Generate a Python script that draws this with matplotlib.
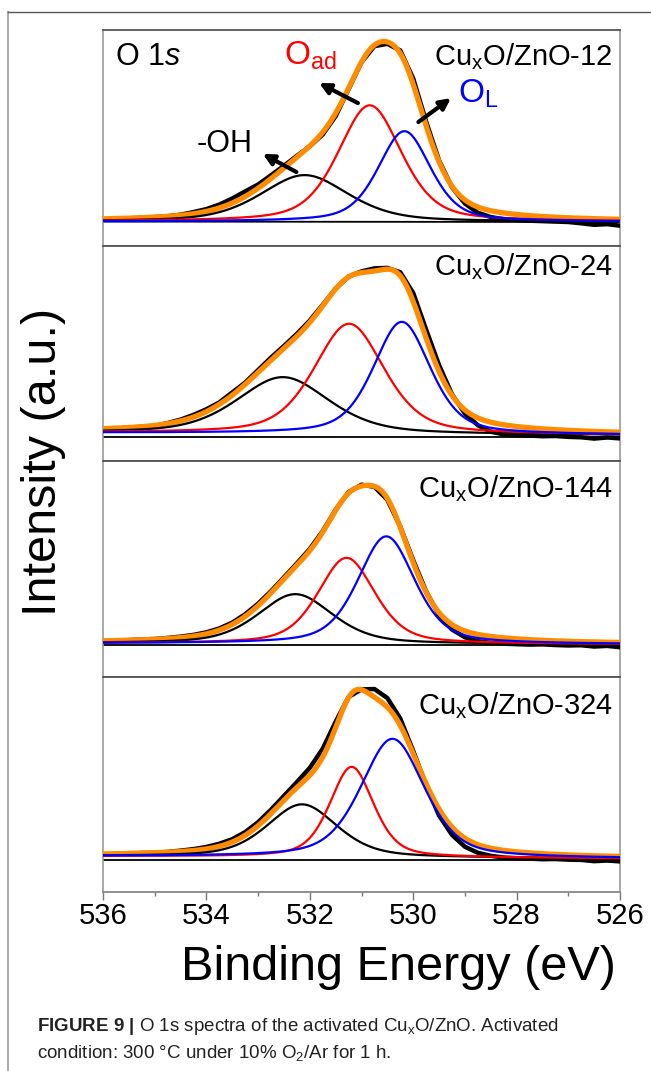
import numpy as np
import matplotlib.pyplot as plt
from matplotlib.lines import Line2D

plt.rcParams['font.family'] = ['Liberation Sans', 'DejaVu Sans']
plt.rcParams['mathtext.fontset'] = 'custom'
plt.rcParams['mathtext.rm'] = 'Liberation Sans'
plt.rcParams['mathtext.it'] = 'Liberation Sans:italic'
plt.rcParams['mathtext.bf'] = 'Liberation Sans:bold'

# --- data (intensity in % of panel height) ---
samples = [r'Cu$_{\mathrm{x}}$O/ZnO-12', r'Cu$_{\mathrm{x}}$O/ZnO-24',
           r'Cu$_{\mathrm{x}}$O/ZnO-144', r'Cu$_{\mathrm{x}}$O/ZnO-324']
label_y = [83.8, 86.3, 83.0, 82.4]

# measured spectra, 536 -> 526 eV every 0.25 eV
energy = np.arange(536, 525.99, -0.25)
raw_12 = [12.0, 12.4, 12.5, 12.9, 13.2, 13.6, 14.3, 15.5, 16.9, 19.0, 21.8, 25.1, 28.3, 32.6,
          37.0, 41.6, 46.0, 51.5, 60.0, 72.5, 85.0, 92.5, 93.6, 90.5, 77.5, 57.5, 39.5, 27.0,
          19.5, 15.2, 13.2, 12.2, 11.8, 11.5, 11.3, 11.1, 10.9, 10.3, 9.6, 9.9, 9.2]
raw_24 = [14.8, 15.0, 15.6, 15.8, 16.3, 17.6, 19.2, 21.4, 24.0, 27.2, 31.8, 36.4, 42.2, 48.0,
          53.4, 59.0, 65.2, 72.5, 80.0, 85.6, 88.0, 89.4, 89.6, 87.6, 78.0, 61.0, 44.5, 31.0,
          22.0, 16.6, 13.6, 12.4, 12.0, 11.8, 11.5, 11.6, 11.2, 11.0, 10.4, 10.9, 10.5]
raw_144 = [16.3, 16.5, 16.9, 17.2, 17.4, 17.9, 18.5, 19.3, 20.5, 22.3, 25.0, 28.9, 33.8, 39.6,
           46.0, 52.5, 59.2, 67.5, 77.4, 85.6, 89.0, 88.0, 82.0, 69.5, 54.0, 39.5, 28.5, 21.8,
           18.2, 16.4, 15.6, 15.2, 15.0, 14.8, 14.9, 14.6, 14.4, 14.5, 13.9, 14.2, 13.6]
raw_324 = [17.4, 17.6, 17.9, 18.1, 18.2, 18.6, 19.2, 19.9, 20.9, 22.4, 24.5, 27.8, 32.4, 38.2,
           44.6, 51.0, 57.6, 66.5, 79.0, 90.5, 94.0, 94.2, 90.0, 80.5, 65.5, 49.5, 35.5, 26.5,
           21.0, 18.2, 16.8, 16.0, 15.7, 15.5, 15.2, 15.3, 15.0, 14.9, 14.3, 14.6, 14.2]
raws = [raw_12, raw_24, raw_144, raw_324]

# fitted components: centre (eV), height above background, FWHM (eV)
oh_center = [532.10, 532.52, 532.28, 532.15]
oh_height = [21.6, 26.2, 23.0, 24.5]
oh_fwhm = [2.0, 2.1, 1.7, 1.6]

oad_center = [530.84, 531.24, 531.29, 531.19]
oad_height = [54.0, 51.1, 39.9, 42.0]
oad_fwhm = [1.45, 1.6, 1.3, 1.0]

ol_center = [530.17, 530.22, 530.52, 530.40]
ol_height = [42.0, 52.1, 49.9, 55.1]
ol_fwhm = [1.2, 1.3, 1.3, 1.45]

bg_left = [11.1, 13.1, 15.4, 16.6]
bg_right = [11.0, 12.0, 14.9, 15.5]
base_left = [11.1, 11.3, 14.4, 14.8]
base_right = [10.9, 11.3, 14.4, 14.8]

xticks = [536, 534, 532, 530, 528, 526]


def pv(E, c, h, w, eta=0.45):
    x = (E - c) / w
    return h * ((1 - eta) * np.exp(-4 * np.log(2) * x ** 2) + eta / (1 + 4 * x ** 2))


E = np.linspace(536, 526, 801)

fig = plt.figure(figsize=(6.51, 10.71), dpi=100)
axes = fig.subplots(4, 1, sharex=True, gridspec_kw=dict(hspace=0))
fig.subplots_adjust(left=103 / 651, right=620 / 651, top=1 - 30 / 1071, bottom=1 - 892 / 1071)

for i, ax in enumerate(axes):
    bg = bg_left[i] + (bg_right[i] - bg_left[i]) * (536 - E) / 10
    p_oh = pv(E, oh_center[i], oh_height[i], oh_fwhm[i])
    p_ad = pv(E, oad_center[i], oad_height[i], oad_fwhm[i])
    p_l = pv(E, ol_center[i], ol_height[i], ol_fwhm[i])
    env = bg + p_oh + p_ad + p_l

    ax.plot([536, 526], [base_left[i], base_right[i]], color='k', lw=1.3, zorder=2)
    ax.plot(energy, raws[i], color='k', lw=3.2, zorder=3)
    ax.plot(E, env, color='#ff8c00', lw=3.8, zorder=4, solid_capstyle='butt')
    ax.plot(E, bg + p_oh, color='k', lw=1.6, zorder=5)
    ax.plot(E, bg + p_ad, color='#ff0000', lw=1.6, zorder=5)
    ax.plot(E, bg + p_l, color='#0000ff', lw=1.6, zorder=5)

    ax.text(526.14, label_y[i], samples[i], ha='right', va='baseline', fontsize=21)
    ax.set_ylim(0, 100)
    ax.set_yticks([])
    for s in ['left', 'right']:
        ax.spines[s].set_color('#999999')
        ax.spines[s].set_linewidth(1.2)
    for s in ['top', 'bottom']:
        ax.spines[s].set_color('#555555')
        ax.spines[s].set_linewidth(1.3)
    ax.tick_params(axis='x', which='both', bottom=(i == 3), top=False, direction='out',
                   color='#777777')

ax = axes[-1]
ax.set_xlim(536, 526)
ax.set_xticks(xticks)
ax.set_xticks(np.arange(535, 526, -2), minor=True)
ax.tick_params(axis='x', which='major', length=6, width=1, labelsize=21, pad=1.5)
ax.tick_params(axis='x', which='minor', length=3, width=1)
axes[-1].spines['bottom'].set_color('#888888')

a0 = axes[0]
a0.text(535.77, 83.8, r'O 1$\mathit{s}$', fontsize=22, ha='left', va='baseline')
a0.text(532.5, 83.8, r'O$_{\mathrm{ad}}$', fontsize=24, color='#ff0000', ha='left', va='baseline')
a0.text(529.13, 66.1, r'O$_{\mathrm{L}}$', fontsize=24, color='#0000ff', ha='left', va='baseline')
a0.text(534.18, 43.4, '-OH', fontsize=22, ha='left', va='baseline')
arrow = dict(arrowstyle='-|>', lw=3, color='k', mutation_scale=16, shrinkA=0, shrinkB=0)
a0.annotate('', xy=(531.82, 75.4), xytext=(531.07, 66.1), arrowprops=arrow, zorder=6)
a0.annotate('', xy=(529.27, 68.4), xytext=(529.9, 57.3), arrowprops=arrow, zorder=6)
a0.annotate('', xy=(532.91, 42.5), xytext=(532.26, 34.1), arrowprops=arrow, zorder=6)

fig.text(398 / 651, 1 - 980 / 1071, 'Binding Energy (eV)', fontsize=35, ha='center', va='baseline')
fig.text(44 / 651, 0.569, 'Intensity (a.u.)', fontsize=35, rotation=90, ha='center', va='center')

fig.text(37 / 651, 1 - 1031 / 1071,
         r'$\mathbf{FIGURE\ 9\ |}$ O 1s spectra of the activated Cu$_{\mathrm{x}}$O/ZnO. Activated',
         fontsize=13.5, color='#222222', ha='left', va='baseline')
fig.text(37 / 651, 1 - 1058 / 1071,
         r'condition: 300 °C under 10% O$_{\mathrm{2}}$/Ar for 1 h.',
         fontsize=13.5, color='#222222', ha='left', va='baseline')

fig.add_artist(Line2D([8 / 651, 8 / 651], [0, 1 - 12 / 1071], transform=fig.transFigure,
                      color='#aaaaaa', lw=1.5))
fig.add_artist(Line2D([8 / 651, 1], [1 - 12 / 1071, 1 - 12 / 1071], transform=fig.transFigure,
                      color='#555555', lw=1.0))

fig.savefig('out.png', dpi=100)
